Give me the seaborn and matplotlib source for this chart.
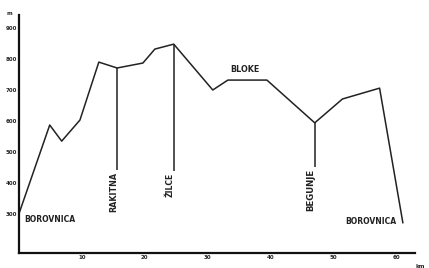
import matplotlib
matplotlib.use('Agg')
import matplotlib.pyplot as plt
import seaborn as sns
import pandas as pd

# profile of the route, km vs metres
km = [0, 4.9, 6.8, 9.7, 12.7, 15.6, 19.7, 21.6, 24.6, 30.8, 33.2, 39.4, 47.0, 51.4, 57.3, 61.0]
visina = [300, 587, 535, 603, 790, 771, 787, 832, 848, 700, 732, 732, 594, 671, 706, 271]

# places marked with a vertical line
kraji = ['RAKITNA', 'ŽILCE', 'BEGUNJE']
kraji_km = [15.6, 24.6, 47.0]
kraji_vrh = [771, 848, 594]
kraji_dno = [442, 439, 452]

x_ticks = [10, 20, 30, 40, 50, 60]
y_ticks = [300, 400, 500, 600, 700, 800, 900]

sns.set_style('white')
plt.rcParams['font.family'] = ['DejaVu Sans']

fig = plt.figure(figsize=(4.29, 2.68), dpi=100)
ax = fig.add_axes([0.044, 0.056, 0.923, 0.888])

profil = pd.DataFrame({'km': km, 'visina': visina})
sns.lineplot(data=profil, x='km', y='visina', sort=False, color='#222222', linewidth=1.1, ax=ax)

ax.vlines(kraji_km, kraji_dno, kraji_vrh, color='#222222', linewidth=1.1)
velikosti = [5.8, 5.5, 6.2]
for ime, k, d, v in zip(kraji, kraji_km, kraji_dno, velikosti):
    ax.text(k - 0.6, d - 6, ime, rotation=90, ha='center', va='top',
            fontsize=v, fontweight='bold', color='#222222')

ax.text(0.9, 282, 'BOROVNICA', ha='left', va='center', fontsize=5.5, fontweight='bold', color='#222222')
ax.text(51.8, 277, 'BOROVNICA', ha='left', va='center', fontsize=5.5, fontweight='bold', color='#222222')
ax.text(33.6, 752, 'BLOKE', ha='left', va='bottom', fontsize=5.8, fontweight='bold', color='#222222')

ax.set_xlim(0, 62.9)
ax.set_ylim(174, 942)
ax.set_xticks(x_ticks)
ax.set_yticks(y_ticks)
ax.set_xticklabels([str(t) for t in x_ticks], fontsize=4, fontweight='bold')
ax.set_yticklabels([str(t) for t in y_ticks], fontsize=4, fontweight='bold')
ax.tick_params(axis='both', length=0, pad=1.5)
ax.set_xlabel('')
ax.set_ylabel('')

for s in ['top', 'right']:
    ax.spines[s].set_visible(False)
for s in ['left', 'bottom']:
    ax.spines[s].set_linewidth(1.6)
    ax.spines[s].set_color('#111111')

ax.text(-1.5, 948, 'm', ha='center', va='center', fontsize=4, fontweight='bold', clip_on=False)
ax.text(63.8, 174 - 35, 'km', ha='center', va='top', fontsize=4, fontweight='bold', clip_on=False)

fig.savefig('out.png', dpi=100)
